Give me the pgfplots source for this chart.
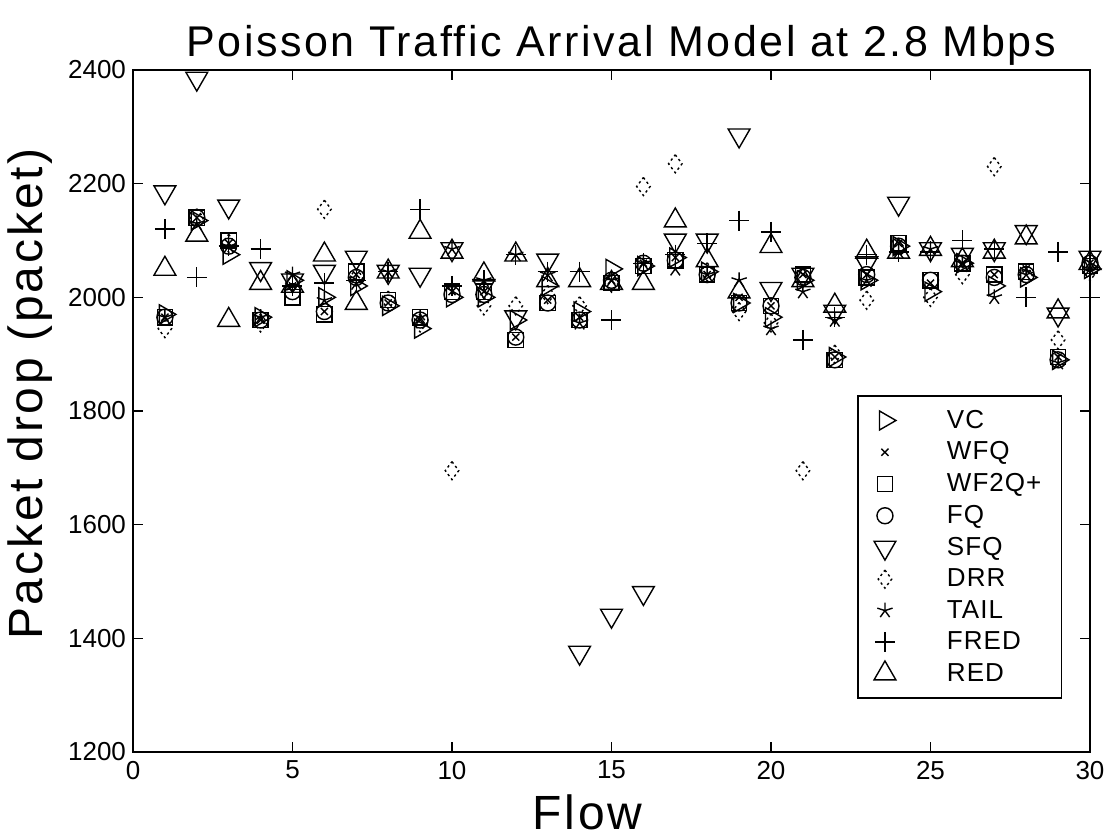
\documentclass[border=0pt]{standalone}
\usepackage{pgfplots}
\pgfplotsset{compat=1.18}
\usepackage{pgfplotstable}
\usepackage{fontspec}
\setmainfont{Liberation Sans}
\newfontfamily\spaced[LetterSpace=6]{Liberation Sans}
\newfontfamily\spacedb[LetterSpace=4]{Liberation Sans}
\pgfplotstableread{
flow VC WFQ WFQP FQ SFQ DRR TAIL FRED RED
1 1970 1965 1965 1965 2185 1945 1965 2120 2050
2 2135 2140 2140 2140 2385 2140 2130 2035 2110
3 2075 2095 2100 2090 2160 2095 2090 2090 1960
4 1965 1960 1960 1960 2050 1955 1965 2085 2025
5 2030 2020 2000 2010 2030 2025 2040 2020 2020
6 2000 1975 1970 1975 2045 2155 1995 2025 2075
7 2020 2040 2045 2035 2070 2035 2025 2030 1990
8 1985 1990 1995 1990 2045 1995 2045 2045 2045
9 1945 1960 1965 1960 2040 1955 1965 2155 2115
10 2000 2010 2010 2005 2085 1695 2085 2020 2080
11 2000 2010 2010 2005 2020 1985 2030 2030 2040
12 1960 1930 1925 1930 1965 1985 2075 2075 2075
13 2020 1995 1990 1990 2065 2005 2040 2045 2030
14 1975 1965 1960 1960 1375 1985 1955 2045 2030
15 2050 2030 2025 2030 1440 2025 2030 1960 2025
16 2055 2060 2055 2060 1480 2195 2060 2060 2025
17 2070 2070 2065 2065 2100 2235 2050 2075 2135
18 2045 2040 2040 2040 2100 2045 2040 2095 2065
19 1990 2000 1990 1990 2285 1975 2030 2135 2010
20 1965 1985 1985 1985 2015 1955 1945 2115 2090
21 2030 2040 2040 2035 2040 1695 2010 1925 2030
22 1895 1895 1890 1890 1975 1900 1960 1965 1985
23 2030 2040 2035 2040 2060 1995 2030 2075 2080
24 2090 2095 2095 2090 2165 2085 2080 2080 2080
25 2010 2025 2030 2030 2085 2000 2085 2080 2085
26 2060 2060 2060 2060 2075 2040 2060 2100 2065
27 2020 2040 2040 2035 2085 2230 2000 2085 2080
28 2035 2050 2045 2040 2115 2040 2040 2000 2105
29 1890 1895 1895 1890 1970 1925 1885 2080 1975
30 2050 2060 2055 2060 2070 2045 2050 2000 2060
}\data
\pgfplotsset{
  myplot/.style={black, only marks, line width=0.7pt,
    legend image code/.code={\draw[mark repeat=2,mark phase=2] plot coordinates {(0cm,0cm)(0.42cm,0cm)(0.84cm,0cm)};}},
}
\begin{document}
\begin{tikzpicture}
\begin{axis}[
  scale only axis,
  width=478.5pt, height=341pt,
  xmin=0, xmax=30, ymin=1200, ymax=2400,
  xtick={0,5,...,30}, ytick={1200,1400,...,2400},
  tick align=inside,
  major tick length=5pt,
  axis line style={line width=0.9pt},
  every tick/.style={black, line width=0.8pt},
  tick label style={font=\fontsize{13}{14}\selectfont},
  xticklabel style={yshift=-1pt},
  /pgf/number format/assume math mode=true,
  /pgf/number format/set thousands separator={},
  title={Poisson Traffic Arrival Model at 2.8 Mbps},
  title style={font=\spaced\fontsize{21.5}{24}\selectfont, at={(axis description cs:0.51,1.054)}, anchor=center, yshift=-12pt},
  xlabel={Flow},
  xlabel style={font=\spaced\fontsize{24}{26}\selectfont, at={(axis description cs:0.475,-0.088)}, anchor=center},
  ylabel={Packet drop (packet)},
  ylabel style={font=\spaced\fontsize{24}{26}\selectfont, at={(axis description cs:-0.1076,0.525)}, anchor=center},
  legend style={at={(0.757,0.523)}, anchor=north west, draw=black, line width=0.6pt,
    font=\spacedb\fontsize{13}{14}\selectfont, row sep=1.3pt, inner xsep=8pt, inner ysep=5pt,
    legend cell align=left, /tikz/every odd column/.append style={column sep=23.5pt}},
]
\addplot[myplot, mark=triangle, mark size=5.5pt, mark options={rotate=-90, solid}] table[x=flow,y=VC]{\data};
\addlegendentry{VC}
\addplot[myplot, mark=x, mark size=2.5pt, mark options={solid}] table[x=flow,y=WFQ]{\data};
\addlegendentry{WFQ}
\addplot[myplot, mark=square, mark size=3.8pt, mark options={solid}] table[x=flow,y=WFQP]{\data};
\addlegendentry{WF2Q+\hspace{12.5pt}}
\addplot[myplot, mark=o, mark size=4pt, mark options={solid}] table[x=flow,y=FQ]{\data};
\addlegendentry{FQ}
\addplot[myplot, mark=triangle, mark size=6.3pt, mark options={rotate=180, solid}] table[x=flow,y=SFQ]{\data};
\addlegendentry{SFQ}
\addplot[myplot, mark=diamond, mark size=4.5pt, mark options={solid, dash pattern=on 1.2pt off 1.5pt, rounded corners=2.5pt}] table[x=flow,y=DRR]{\data};
\addlegendentry{DRR}
\addplot[myplot, mark=star, mark size=4pt, mark options={solid}] table[x=flow,y=TAIL]{\data};
\addlegendentry{TAIL}
\addplot[myplot, mark=+, mark size=5pt, mark options={solid}] table[x=flow,y=FRED]{\data};
\addlegendentry{FRED}
\addplot[myplot, mark=triangle, mark size=6.3pt, mark options={solid}] table[x=flow,y=RED]{\data};
\addlegendentry{RED}
\end{axis}
\pgfresetboundingbox
\path[use as bounding box] (-66.5pt,-43pt) rectangle (488.5pt,376pt);
\end{tikzpicture}
\end{document}
